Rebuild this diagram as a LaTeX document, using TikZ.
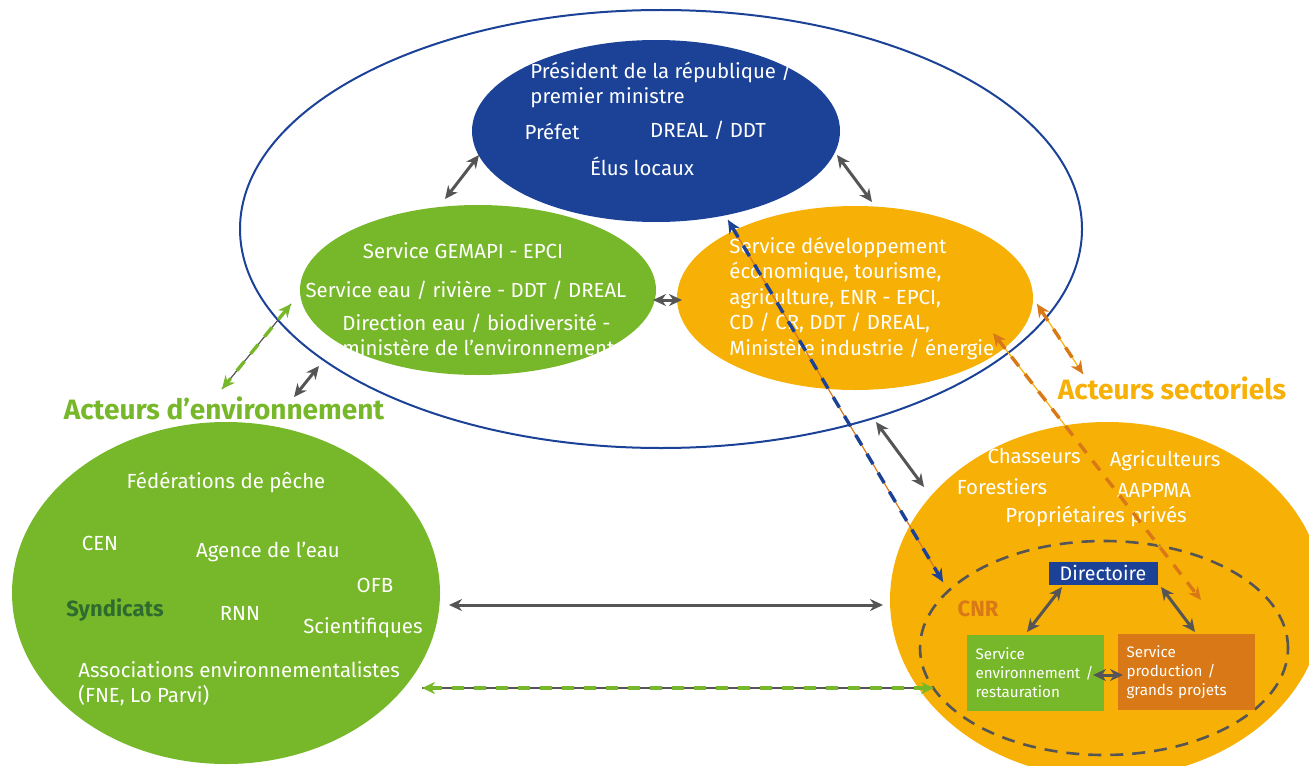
\documentclass[tikz,border=0pt]{standalone}
\usepackage{fontspec}
\setmainfont{Fira Sans}
\usetikzlibrary{shapes.geometric, arrows.meta}

\definecolor{govblue}{HTML}{1B4297}
\definecolor{envgreen}{HTML}{77B82A}
\definecolor{secyellow}{HTML}{F7B005}
\definecolor{secorange}{HTML}{D97816}
\definecolor{arrowgray}{HTML}{555555}
\definecolor{syndgreen}{HTML}{2F6B2F}

\begin{document}
\begin{tikzpicture}[x=0.5pt, y=-0.5pt,
    >={Stealth[length=6.5pt, width=6pt]},
    blob/.style={ellipse, inner sep=0pt, outer sep=0pt},
    txt/.style={text=white, inner sep=0pt, font=\fontsize{10.2}{12.5}\selectfont},
    title/.style={inner sep=0pt, font=\bfseries\fontsize{14}{16}\selectfont},
    svcbox/.style={rectangle, inner sep=0pt, inner xsep=4.5pt, text=white, align=left,
        minimum height=38pt, text width=59.5pt, font=\fontsize{7.6}{9.5}\selectfont},
    biarrow/.style={arrowgray, line width=1.5pt, <->},
    thinline/.style={line width=0.6pt},
    dashline/.style={line width=1.7pt, dash pattern=on 6pt off 5pt, <->}]
        \useasboundingbox (0,0) rectangle (1309,765);
        \clip (0,0) rectangle (1309,765);

        % Ellipses
        \node[blob, draw=govblue, line width=1pt, minimum width=421pt, minimum height=219pt] (gov) at (661,229) {};
        \node[blob, fill=govblue, minimum width=184pt, minimum height=91pt] (pres) at (656,131) {};
        \node[blob, fill=envgreen, minimum width=178pt, minimum height=85pt] (gemapi) at (478,290) {};
        \node[blob, fill=secyellow, minimum width=178pt, minimum height=92pt] (dev) at (855,298) {};
        \node[blob, fill=envgreen, minimum width=214pt, minimum height=171pt] (envact) at (226,593) {};
        \node[blob, fill=secyellow, minimum width=217pt, minimum height=178pt] (secact) at (1107,600) {};
        \node[blob, draw=arrowgray, line width=1.3pt, dash pattern=on 6.5pt off 4.5pt,
            minimum width=184pt, minimum height=107pt] (cnr) at (1104,648) {};

        % CNR boxes
        \node[rectangle, fill=govblue, text=white, inner sep=0pt, minimum width=54.5pt, minimum height=11.5pt,
            font=\fontsize{9.8}{11}\selectfont] (dir) at (1103,573) {Directoire};
        \node[svcbox, fill=envgreen] (envsvc) at (1035,673) {Service\\environnement /\\restauration};
        \node[svcbox, fill=secorange] (prodsvc) at (1186,672) {Service\\production /\\grands projets};

        % Gouvernance texts
        \node[txt, anchor=west, align=left] (presT) at (530,84.5) {Président de la république /\\premier ministre};
        \node[txt] (prefT) at (552,131) {Préfet};
        \node[txt] (drealT) at (708,130) {DREAL / DDT};
        \node[txt] (elusT) at (642,166) {Élus locaux};
        \node[txt] (gemT) at (463,251) {Service GEMAPI - EPCI};
        \node[txt] (eauT) at (466,290) {Service eau / rivière - DDT / DREAL};
        \node[txt, anchor=west, align=left] (direauT) at (342,334.5) {Direction eau / biodiversité -\\ministère de l’environnement};
        \node[txt, anchor=west, align=left, font=\fontsize{10.2}{12.75}\selectfont] (devT) at (729,298)
            {Service développement\\économique, tourisme,\\agriculture, ENR - EPCI,\\CD / CR, DDT / DREAL,\\Ministère industrie / énergie};

        % Environment texts
        \node[title, text=envgreen] (envTitle) at (224,408) {Acteurs d’environnement};
        \node[txt] (fedT) at (226,482) {Fédérations de pêche};
        \node[txt] (cenT) at (100,543) {CEN};
        \node[txt] (agenceT) at (268,552) {Agence de l’eau};
        \node[txt] (ofbT) at (375,585) {OFB};
        \node[txt, text=syndgreen, font=\bfseries\fontsize{11}{13}\selectfont] (syndT) at (115,610) {Syndicats};
        \node[txt] (rnnT) at (240,613) {RNN};
        \node[txt] (sciT) at (363,628) {Scientifiques};
        \node[txt, anchor=west, align=left] (assocT) at (78,683.5) {Associations environnementalistes\\(FNE, Lo Parvi)};

        % Sector texts
        \node[title, text=secyellow] (secTitle) at (1172,388) {Acteurs sectoriels};
        \node[txt] (chasT) at (1034,456) {Chasseurs};
        \node[txt] (agriT) at (1165,461) {Agriculteurs};
        \node[txt] (foresT) at (1002,487) {Forestiers};
        \node[txt] (aappT) at (1154,490) {AAPPMA};
        \node[txt] (propT) at (1096,516) {Propriétaires privés};
        \node[txt, text=secorange, font=\bfseries\fontsize{11}{13}\selectfont] (cnrT) at (978,609) {CNR};

        % Arrow ends
        \coordinate (presW) at (479,155);   \coordinate (gemN) at (445,199);
        \coordinate (presE) at (837,155);   \coordinate (devN) at (872,202);
        \coordinate (gemE) at (653,300);    \coordinate (devW) at (682,300);
        \coordinate (govSW) at (319,366);   \coordinate (envN) at (294,397);
        \coordinate (gemSW) at (291,304);   \coordinate (envNW) at (222,389);
        \coordinate (envE) at (449,605);    \coordinate (secW) at (883,605);
        \coordinate (envSE) at (422,688);   \coordinate (cnrW) at (934,688);
        \coordinate (govSE) at (876,422);   \coordinate (secN) at (924,487);
        \coordinate (presS) at (728,220);   \coordinate (cnrNW) at (943,582);
        \coordinate (devSE) at (993,333);   \coordinate (cnrNE) at (1201,600);
        \coordinate (devE) at (1037,304);   \coordinate (secTitleN) at (1083,374);
        \coordinate (dirSW) at (1062,587);  \coordinate (envsvcN) at (1027,632);
        \coordinate (dirSE) at (1161,587);  \coordinate (prodsvcN) at (1195,632);
        \coordinate (envsvcE) at (1093,675); \coordinate (prodsvcW) at (1123,675);

        % Arrows
        \draw[biarrow] (presW) -- (gemN);
        \draw[biarrow] (presE) -- (devN);
        \draw[biarrow] (gemE) -- (devW);
        \draw[biarrow] (govSW) -- (envN);
        \draw[biarrow] (envE) -- (secW);
        \draw[biarrow] (govSE) -- (secN);
        \draw[biarrow] (dirSW) -- (envsvcN);
        \draw[biarrow] (dirSE) -- (prodsvcN);
        \draw[biarrow] (envsvcE) -- (prodsvcW);

        % Dashed arrows
        \draw[thinline, arrowgray] (gemSW) -- (envNW);
        \draw[dashline, envgreen] (gemSW) -- (envNW);
        \draw[thinline, arrowgray] (envSE) -- (cnrW);
        \draw[dashline, envgreen] (envSE) -- (cnrW);
        \draw[thinline, secorange] (presS) -- (cnrNW);
        \draw[dashline, govblue] (presS) -- (cnrNW);
        \draw[thinline, secyellow] (devSE) -- (cnrNE);
        \draw[dashline, secorange] (devSE) -- (cnrNE);
        \draw[thinline, secyellow] (devE) -- (secTitleN);
        \draw[dashline, secorange] (devE) -- (secTitleN);
    \end{tikzpicture}
\end{document}
